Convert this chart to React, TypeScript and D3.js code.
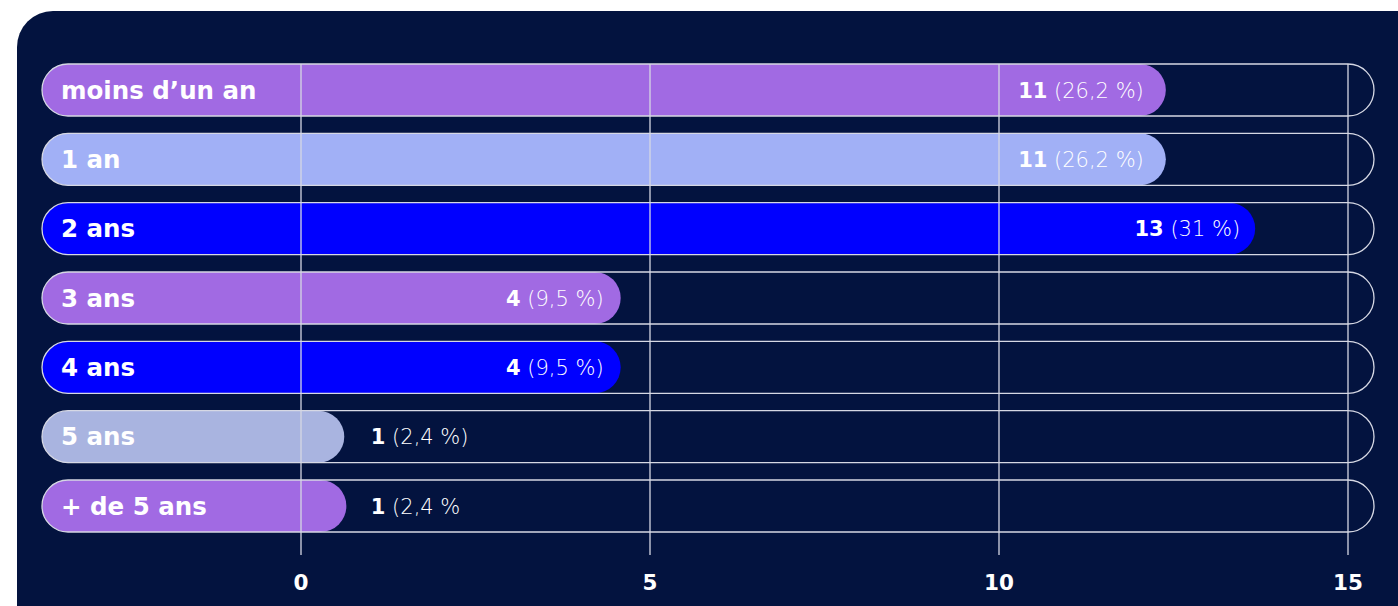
import React from "react";
import * as d3 from "d3";

const categories = ["moins d’un an", "1 an", "2 ans", "3 ans", "4 ans", "5 ans", "+ de 5 ans"];
const counts = [11, 11, 13, 4, 4, 1, 1];
const percentLabels = ["(26,2 %)", "(26,2 %)", "(31 %)", "(9,5 %)", "(9,5 %)", "(2,4 %)", "(2,4 %"];
// visual bar end positions, in axis units
const barEnds = [12.39, 12.39, 13.67, 4.58, 4.58, 0.62, 0.65];
const barColors = ["#A16AE3", "#A1B0F6", "#0000FF", "#A16AE3", "#0000FF", "#A9B4E0", "#A16AE3"];
const tickValues = [0, 5, 10, 15];

const W = 1398;
const H = 606;
const FONT = "'DejaVu Sans', sans-serif";

export default function App() {
  const x = d3.scaleLinear().domain([0, 15]).range([301, 1348]);
  const y = d3.scaleBand<string>().domain(categories).range([64, 532]).paddingInner(0.25).paddingOuter(0);
  const bw = y.bandwidth();
  const r = bw / 2;
  const left = 42;

  return (
    <svg width={W} height={H} style={{ position: "absolute", left: 0, top: 0, display: "block" }}>
      <rect x={0} y={0} width={W} height={H} fill="#ffffff" />
      <rect x={17} y={11} width={W + 60} height={H + 40} rx={36} ry={36} fill="#03133F" />
      {categories.map((c, i) => {
        const y0 = y(c)!;
        const xe = x(barEnds[i]);
        return (
          <rect key={"b" + i} x={left} y={y0} width={xe - left} height={bw} rx={r} ry={r} fill={barColors[i]} />
        );
      })}
      {categories.map((c, i) => {
        const y0 = y(c)!;
        return (
          <rect key={"o" + i} x={left} y={y0} width={x(15) + r - left} height={bw} rx={r} ry={r}
            fill="none" stroke="#D6D8E4" strokeWidth={1.3} />
        );
      })}
      {tickValues.map((t) => (
        <line key={"g" + t} x1={x(t)} x2={x(t)} y1={64} y2={555} stroke="#D6D8E4" strokeWidth={1.3} />
      ))}
      {categories.map((c, i) => (
        <text key={"c" + i} x={61} y={y(c)! + bw / 2} dy="0.36em" fill="#ffffff"
          fontFamily={FONT} fontWeight={700} fontSize={24.5}>{c}</text>
      ))}
      {categories.map((c, i) => {
        const inside = counts[i] > 2;
        const xe = x(barEnds[i]);
        const tx = inside ? xe - (counts[i] === 13 ? 15 : counts[i] === 11 ? 22 : 17) : x(counts[i]);
        return (
          <text key={"v" + i} x={tx} y={y(c)! + bw / 2} dy="0.36em" fill="#ffffff"
            textAnchor={inside ? "end" : "start"} fontFamily={FONT} fontSize={21}>
            <tspan fontWeight={700}>{counts[i]}</tspan>
            <tspan fontWeight={200}>{" " + percentLabels[i]}</tspan>
          </text>
        );
      })}
      {tickValues.map((t) => (
        <text key={"t" + t} x={x(t)} y={582} dy="0.36em" textAnchor="middle" fill="#ffffff"
          fontFamily={FONT} fontWeight={700} fontSize={21.5}>{t}</text>
      ))}
    </svg>
  );
}
